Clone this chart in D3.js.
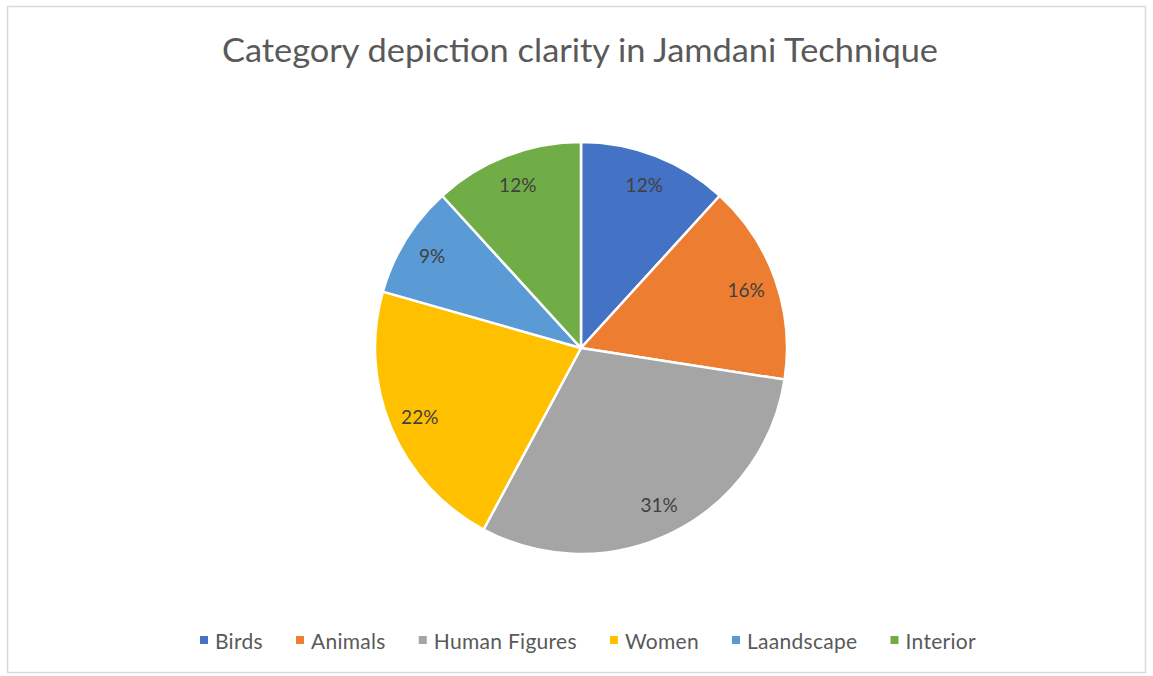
<!DOCTYPE html>
<html>
<head>
<meta charset="utf-8">
<script src="https://cdn.jsdelivr.net/npm/d3@7"></script>
<style>
  html, body { margin: 0; padding: 0; background: #fff; }
  svg { display: block; }
  text { font-family: Lato, "Open Sans", sans-serif; }
</style>
</head>
<body>
<svg id="chart" width="1153" height="676"></svg>
<script>
const categories = ["Birds", "Animals", "Human Figures", "Women", "Laandscape", "Interior"];
const values = [12, 16, 31, 22, 9, 12];
const labels = ["12%", "16%", "31%", "22%", "9%", "12%"];
const colors = ["#4472C4", "#ED7D31", "#A5A5A5", "#FFC000", "#5B9BD5", "#70AD47"];
const title = "Category depiction clarity in Jamdani Technique";

const W = 1153, H = 676;
const svg = d3.select("#chart");

// outer border
svg.append("rect")
  .attr("x", 7.5).attr("y", 6.5)
  .attr("width", W - 15).attr("height", H - 10)
  .attr("fill", "#fff")
  .attr("stroke", "#d9d9d9").attr("stroke-width", 1.5);

// title
svg.append("text")
  .attr("x", 580).attr("y", 62)
  .attr("text-anchor", "middle")
  .attr("font-size", 32)
  .attr("fill", "#595959")
  .attr("textLength", 716)
  .attr("lengthAdjust", "spacingAndGlyphs")
  .text(title);

const cx = 581, cy = 348, R = 206;
const data = categories.map((c, i) => ({ name: c, value: values[i], label: labels[i], color: colors[i] }));

const pie = d3.pie().value(d => d.value).sort(null);
const arcs = pie(data);
const arc = d3.arc().innerRadius(0).outerRadius(R);
const labelArc = d3.arc().innerRadius(R * 0.85).outerRadius(R * 0.85);

const g = svg.append("g").attr("transform", `translate(${cx},${cy})`);
g.selectAll("path.slice")
  .data(arcs)
  .join("path")
  .attr("class", "slice")
  .attr("d", arc)
  .attr("fill", d => d.data.color)
  .attr("stroke", "#fff")
  .attr("stroke-width", 2.5)
  .attr("stroke-linejoin", "round");

g.selectAll("text.lbl")
  .data(arcs)
  .join("text")
  .attr("class", "lbl")
  .attr("transform", d => `translate(${labelArc.centroid(d)})`)
  .attr("text-anchor", "middle")
  .attr("dominant-baseline", "central")
  .attr("font-size", 19)
  .attr("fill", "#404040")
  .text(d => d.data.label);

// legend
const legend = svg.append("g");
const legendY = 640;
const fontSize = 21;
const marker = 8, markerGap = 7, itemGap = 33;
const items = legend.selectAll("g.item").data(data).join("g").attr("class", "item");
items.append("rect")
  .attr("width", marker).attr("height", marker)
  .attr("y", legendY - marker / 2)
  .attr("fill", d => d.color);
items.append("text")
  .attr("y", legendY)
  .attr("dominant-baseline", "central")
  .attr("font-size", fontSize)
  .attr("letter-spacing", 0.3)
  .attr("fill", "#595959")
  .text(d => d.name);
const widths = [];
items.select("text").each(function() { widths.push(this.getComputedTextLength()); });
const total = d3.sum(widths, w => marker + markerGap + w) + itemGap * (widths.length - 1);
let x = 588 - total / 2;
items.each(function(d, i) {
  const it = d3.select(this);
  it.select("rect").attr("x", x);
  it.select("text").attr("x", x + marker + markerGap);
  x += marker + markerGap + widths[i] + itemGap;
});
</script>
</body>
</html>
